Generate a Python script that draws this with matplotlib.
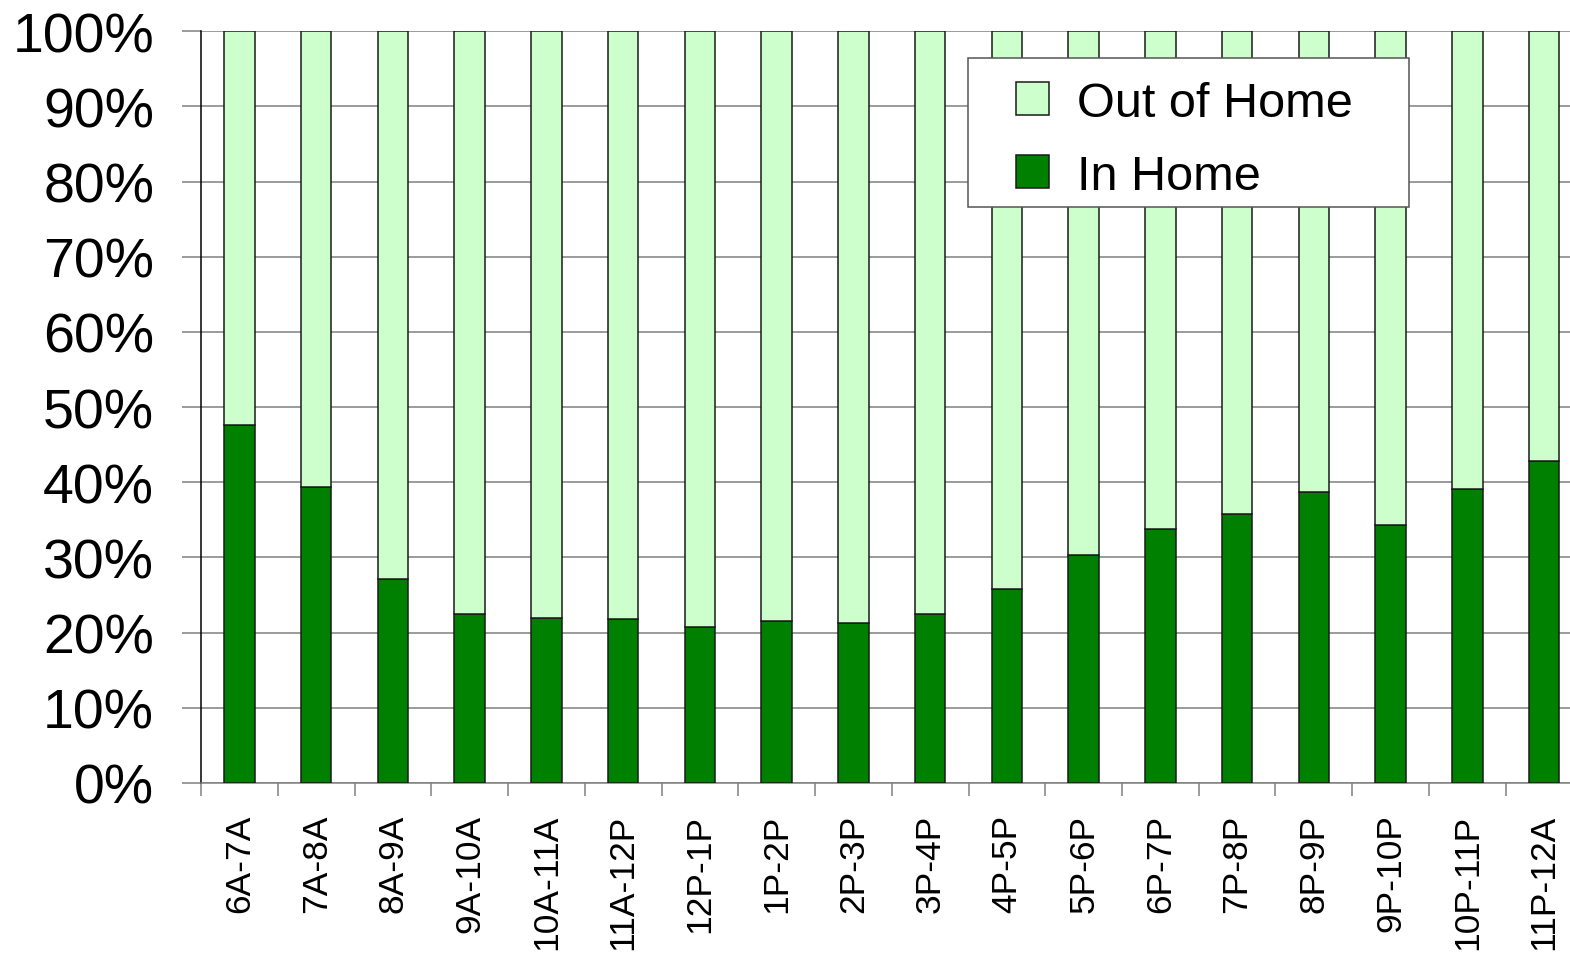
import matplotlib
matplotlib.use("Agg")
import matplotlib.pyplot as plt
import matplotlib.ticker as ticker
from matplotlib.legend_handler import HandlerPatch
from matplotlib.patches import Patch, Rectangle
import numpy as np

# ── Data ─────────────────────────────────────────────────────────────────────
HOURS = ["6A-7A", "7A-8A", "8A-9A", "9A-10A", "10A-11A", "11A-12P", "12P-1P",
         "1P-2P", "2P-3P", "3P-4P", "4P-5P", "5P-6P", "6P-7P", "7P-8P",
         "8P-9P", "9P-10P", "10P-11P", "11P-12A"]
IN_HOME = [47.6, 39.4, 27.2, 22.5, 21.9, 21.8, 20.7, 21.5, 21.3,
           22.5, 25.8, 30.3, 33.8, 35.8, 38.7, 34.3, 39.1, 42.8]
OUT_OF_HOME = [100 - v for v in IN_HOME]

# ── Colors ───────────────────────────────────────────────────────────────────
DARK_GREEN = "#008000"
LIGHT_GREEN = "#CCFFCC"
EDGE = "#1A1A1A"
GRID = "#808080"

plt.rcParams["font.family"] = ["Liberation Sans", "DejaVu Sans"]


def _square_right(legend, orig_handle, xdescent, ydescent, width, height, fontsize):
    """Square legend swatch pushed to the right side of the handle box."""
    return Rectangle((-xdescent + width - height, -ydescent), height, height)


fig = plt.figure(figsize=(15.7, 9.54), dpi=100)
ax = fig.add_axes([0.12803, 0.1782, 0.87993, 0.78794])

x = np.arange(len(HOURS))
width = 0.4
ax.bar(x, IN_HOME, width, color=DARK_GREEN, edgecolor=EDGE, linewidth=1.1, zorder=3)
ax.bar(x, OUT_OF_HOME, width, bottom=IN_HOME, color=LIGHT_GREEN,
       edgecolor=EDGE, linewidth=1.1, zorder=3)

ax.set_xlim(-0.5, len(HOURS) - 0.5)
ax.set_ylim(0, 100)

# y axis
ax.set_yticks(np.arange(0, 101, 10))
ax.yaxis.set_major_formatter(ticker.PercentFormatter(xmax=100, decimals=0))
ax.tick_params(axis="y", which="major", length=13.7, width=1.1, color=GRID,
               pad=20, labelsize=40, direction="out")
ax.yaxis.grid(True, color=GRID, linewidth=1.1)
ax.set_axisbelow(True)

# x axis: tick marks at category boundaries, labels at centers
ax.set_xticks(np.arange(-0.5, len(HOURS), 1.0))
ax.set_xticklabels([])
ax.set_xticks(x, minor=True)
ax.set_xticklabels(HOURS, minor=True, rotation=90)
ax.tick_params(axis="x", which="major", length=9.4, width=1.1, color=GRID,
               direction="out")
ax.tick_params(axis="x", which="minor", length=0, pad=22, labelsize=25.5)

ax.spines["top"].set_visible(False)
ax.spines["right"].set_visible(False)
ax.spines["left"].set_color("black")
ax.spines["left"].set_linewidth(1.1)
ax.spines["bottom"].set_color(GRID)
ax.spines["bottom"].set_linewidth(1.1)

# legend box (drawn separately so the entries can sit a bit lower inside it)
fig.patches.append(Rectangle((0.61656, 0.78197), 0.28089, 0.15618,
                             transform=fig.transFigure, facecolor="white",
                             edgecolor="#555555", linewidth=1.1, zorder=4))

handles = [Patch(facecolor=LIGHT_GREEN, edgecolor=EDGE, linewidth=1.1),
           Patch(facecolor=DARK_GREEN, edgecolor=EDGE, linewidth=1.1)]
leg = fig.legend(handles, ["Out of Home", "In Home"],
                 loc="upper left", bbox_to_anchor=(0.6166, 0.775, 0.2809, 0.1558),
                 bbox_transform=fig.transFigure,
                 fontsize=35, frameon=False,
                 borderaxespad=0, borderpad=0.32, labelspacing=0.58,
                 handlelength=1.35, handleheight=0.66, handletextpad=0.58,
                 handler_map={Patch: HandlerPatch(patch_func=_square_right)})
leg.set_zorder(5)

fig.savefig("out.png", dpi=100, facecolor="white")
